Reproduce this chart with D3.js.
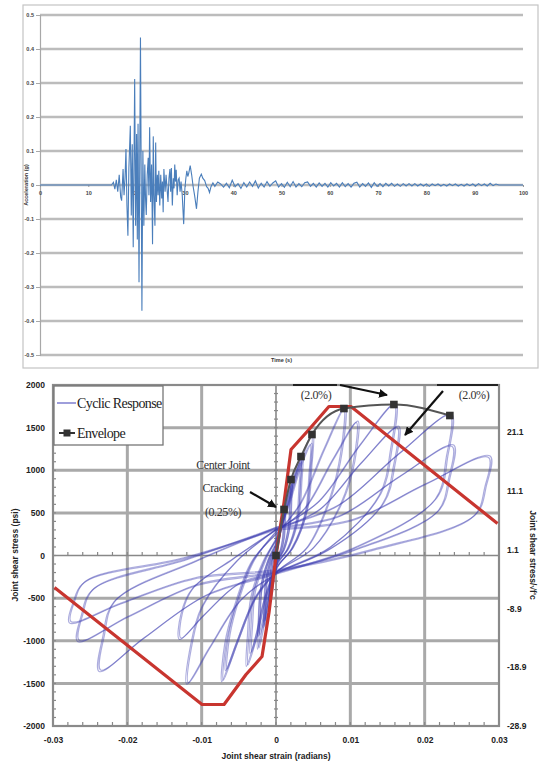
<!DOCTYPE html>
<html><head><meta charset="utf-8">
<script src="https://cdn.jsdelivr.net/npm/d3@7"></script>
<style>body{margin:0;background:#fff}svg{display:block}</style>
</head><body>
<svg id="c" width="543" height="764"></svg>
<script>
// ---------- Top chart data (time s, acceleration g) ----------
const accSeries = [[0,0],[14.8,0],[15.2,0.008],[15.5,-0.012],[15.8,0.015],[16.1,-0.02],[16.4,0.03],[16.7,-0.035],[16.9,-0.046],[17.2,0.047],[17.4,-0.03],[17.6,0.02],[17.8,0.106],[18.0,-0.06],[18.2,-0.149],[18.4,0.05],[18.5,0.09],[18.7,0.174],[18.9,-0.09],[19.1,0.12],[19.3,-0.183],[19.45,0.05],[19.6,0.312],[19.8,-0.12],[20.0,0.15],[20.15,-0.16],[20.3,0.18],[20.5,-0.286],[20.8,0.434],[21.1,-0.37],[21.3,0.10],[21.5,-0.12],[21.7,0.06],[21.85,-0.04],[22.0,-0.088],[22.2,0.03],[22.4,0.08],[22.55,-0.03],[22.7,0.17],[22.9,-0.05],[23.1,0.06],[23.3,-0.174],[23.45,0.143],[23.6,-0.03],[23.8,-0.12],[23.95,0.125],[24.1,-0.05],[24.3,0.03],[24.45,-0.03],[24.6,0.042],[24.8,-0.06],[25.0,0.03],[25.2,-0.04],[25.35,0.01],[25.5,-0.08],[25.65,0.047],[25.9,-0.02],[26.1,0.03],[26.3,-0.01],[26.5,-0.05],[26.7,0.02],[26.9,0.047],[27.05,-0.02],[27.2,0.05],[27.4,-0.06],[27.6,0.02],[27.75,-0.01],[27.9,0.06],[28.05,0.01],[28.2,0.045],[28.4,-0.03],[28.6,0.015],[28.8,0.02],[29.0,-0.02],[29.2,0.01],[29.45,-0.03],[29.75,-0.115],[30.0,-0.01],[30.2,0.02],[30.4,0.042],[30.6,0.025],[30.8,0.035],[31.1,0.057],[31.4,0.03],[31.7,-0.004],[32.0,-0.03],[32.4,-0.07],[32.7,-0.02],[33.0,0.02],[33.4,0.032],[33.7,0.02],[34.1,0.013],[34.5,-0.005],[34.8,-0.01],[35.1,-0.022],[35.4,-0.005],[35.8,0.006],
[36.2,-0.004],[36.8,0.009],[37.4,0.003],[38.0,-0.006],[38.6,0.005],[39.2,-0.008],[39.8,0.014],[40.4,-0.005],[41.0,0.004],[41.6,-0.01],[42.2,0.007],[42.8,-0.006],[43.4,0.009],[44.0,-0.004],[44.6,0.012],[45.2,-0.009],[45.8,0.005],[46.4,-0.006],[47.0,0.01],[47.6,-0.004],[48.2,0.006],[48.8,0.012],[49.4,-0.006],[50.0,0.004],[50.6,-0.007],[51.2,0.008],[51.8,-0.005],[52.4,0.01],[53.0,-0.006],[53.6,0.004],[54.2,-0.005],[54.8,0.007],[55.4,0.009],[56.0,-0.004],[56.6,0.005],[57.2,-0.006],[57.8,0.006],[58.4,-0.004],[59.0,0.005],[59.6,-0.006],[60.2,0.007],[60.8,-0.003],[61.4,0.005],[62.0,-0.006],[62.6,0.007],[63.2,-0.005],[63.8,0.004],[64.4,-0.006],[65.0,0.005],[65.6,0.008],[66.2,-0.006],[66.8,0.004],[67.4,-0.004],[68.0,0.006],[68.6,-0.007],[69.2,0.007],[69.8,-0.004],[70.4,0.004],[71.0,-0.005],[71.6,0.005],[72.2,-0.003],[72.8,0.005],[73.4,-0.004],[74.0,0.003],[74.6,-0.004],[75.2,0.004],[75.8,-0.003],[76.4,0.004],[77.0,-0.003],[77.6,0.004],[78.2,-0.003],[78.8,0.003],[79.4,-0.003],[80.0,0.003],[80.6,-0.004],[81.2,0.003],[81.8,-0.002],[82.4,0.003],[83.0,-0.003],[83.6,0.002],[84.2,-0.003],[84.8,0.003],[85.4,-0.002],[86.0,0.003],[86.6,-0.003],[87.2,0.002],[87.8,-0.003],[88.4,0.003],[89.0,-0.002],[89.6,0.003],[90.2,-0.003],[90.8,0.004],[91.4,-0.002],[92.0,0.003],[92.6,-0.003],[93.2,0.005],[93.8,-0.002],[94.4,0.003],[95.0,0],[100,0]];
const accYTicks = [0.5,0.4,0.3,0.2,0.1,0,-0.1,-0.2,-0.3,-0.4,-0.5];
const accXTicks = [0,10,20,30,40,50,60,70,80,90,100];

// ---------- Bottom chart data ----------
const strainTicks = [-0.03,-0.02,-0.01,0,0.01,0.02,0.03];
const stressTicks = [2000,1500,1000,500,0,-500,-1000,-1500,-2000];
const ratioTicks = [21.1,11.1,1.1,-8.9,-18.9,-28.9];
const envelopeStrain = [0,0.00108,0.00202,0.00336,0.00484,0.00914,0.01586,0.02339];
const envelopeStress = [0,540,891,1161,1419,1724,1771,1642];
const modelStrain = [0.0298,0.01008,0.00712,0.00444,0.00202,0.00108,0,-0.00094,-0.00188,-0.00403,-0.00699,-0.00995,-0.0298];
const modelStress = [375,1748,1748,1478,1243,622,0,-669,-1185,-1396,-1748,-1748,-375];
const cycles = [
 [[0,40],[0.00039,243],[0.00077,432],[0.0011,540],[0.00106,389],[0.00094,205],[0.0005,32],[0,-60],[-0.00036,-224],[-0.00068,-448],[-0.0009,-560],[-0.00086,-403],[-0.00077,-213],[-0.0004,-28],[0,40]],
 [[0,60],[0.00035,225],[0.0007,400],[0.001,500],[0.00096,360],[0.00085,190],[0.00045,30],[0,-40],[-0.00036,-208],[-0.00068,-416],[-0.0009,-520],[-0.00086,-374],[-0.00077,-198],[-0.0004,-26],[0,60]],
 [[0,80],[0.0007,401],[0.0014,713],[0.002,891],[0.00192,642],[0.0017,339],[0.0009,53],[0,-80],[-0.00068,-340],[-0.00128,-680],[-0.0017,-850],[-0.00163,-612],[-0.00145,-323],[-0.00077,-51],[0,80]],
 [[0,100],[0.00067,369],[0.00133,656],[0.0019,820],[0.00182,590],[0.00162,312],[0.00086,49],[0,-90],[-0.00064,-312],[-0.0012,-624],[-0.0016,-780],[-0.00154,-562],[-0.00136,-296],[-0.00072,-47],[0,100]],
 [[0,120],[0.0012,522],[0.0024,929],[0.0034,1161],[0.00326,836],[0.00289,441],[0.00153,70],[0,-120],[-0.001,-440],[-0.0019,-880],[-0.0025,-1100],[-0.0024,-792],[-0.00213,-418],[-0.00113,-66],[0,120]],
 [[0,150],[0.00112,486],[0.00224,864],[0.0032,1080],[0.00307,778],[0.00272,410],[0.00144,65],[0,-100],[-0.00096,-380],[-0.0018,-760],[-0.0024,-950],[-0.0023,-684],[-0.00204,-361],[-0.00108,-57],[0,150]],
 [[0,180],[0.00168,639],[0.00336,1135],[0.0048,1419],[0.00461,1022],[0.00408,539],[0.00216,85],[0,-150],[-0.0016,-520],[-0.003,-1040],[-0.004,-1300],[-0.00384,-936],[-0.0034,-494],[-0.0018,-78],[0,180]],
 [[0,200],[0.00161,585],[0.00322,1040],[0.0046,1300],[0.00442,936],[0.00391,494],[0.00207,78],[0,-150],[-0.0014,-460],[-0.00263,-920],[-0.0035,-1150],[-0.00336,-828],[-0.00298,-437],[-0.00158,-69],[0,200]],
 [[0,250],[0.0032,603],[0.0064,1241],[0.0091,1724],[0.0087,1207],[0.0073,690],[0.0041,86],[0,-200],[-0.0029,-518],[-0.0055,-1066],[-0.0073,-1480],[-0.0069,-1036],[-0.0056,-592],[-0.0033,-74],[0,250]],
 [[0,280],[0.0038,546],[0.0076,1123],[0.0108,1560],[0.0104,1092],[0.0088,624],[0.0049,78],[0,-200],[-0.0027,-473],[-0.0051,-972],[-0.0068,-1350],[-0.0064,-945],[-0.0052,-540],[-0.0031,-68],[0,280]],
 [[0,300],[0.0056,620],[0.0111,1275],[0.0159,1771],[0.0154,1240],[0.0139,708],[0.0072,89],[0,-220],[-0.0048,-528],[-0.009,-1087],[-0.012,-1510],[-0.0115,-1057],[-0.01,-604],[-0.0054,-76],[0,300]],
 [[0,300],[0.0057,525],[0.0114,1080],[0.0163,1500],[0.0158,1050],[0.0143,600],[0.0073,75],[0,-200],[-0.0052,-345],[-0.0098,-709],[-0.013,-985],[-0.0128,-690],[-0.0113,-394],[-0.0059,-49],[0,300]],
 [[0,320],[0.0082,575],[0.0164,1182],[0.0234,1642],[0.0229,1149],[0.0214,657],[0.0105,82],[0,-220],[-0.0095,-476],[-0.0179,-979],[-0.0238,-1360],[-0.0233,-952],[-0.0218,-544],[-0.0107,-68],[0,320]],
 [[0,320],[0.0083,448],[0.0166,922],[0.0237,1280],[0.0232,896],[0.0217,512],[0.0107,64],[0,-200],[-0.0107,-354],[-0.02,-727],[-0.0267,-1010],[-0.0262,-707],[-0.0247,-404],[-0.012,-50],[0,320]],
 [[0,300],[0.01,403],[0.02,828],[0.0286,1150],[0.0281,805],[0.0266,460],[0.0129,58],[0,-180],[-0.0111,-277],[-0.0209,-569],[-0.0278,-790],[-0.0273,-553],[-0.0258,-316],[-0.0125,-40],[0,300]]
];

const svg = d3.select("#c");

// ================= TOP CHART =================
const tx = d3.scaleLinear().domain([0,100]).range([40,523]);
const ty = d3.scaleLinear().domain([-0.5,0.5]).range([355,15]);
svg.append("rect").attr("x",23).attr("y",5).attr("width",515).attr("height",363)
  .attr("fill","#fff").attr("stroke","#c4c4c4").attr("stroke-width",1.2);
const topG = svg.append("g");
topG.selectAll("line.grid").data(accYTicks.filter(d=>d!==0)).join("line")
  .attr("x1",tx(0)).attr("x2",tx(100)).attr("y1",d=>ty(d)).attr("y2",d=>ty(d))
  .attr("stroke","#bcbcbc").attr("stroke-width",2.6);
const ya = topG.append("g").attr("transform",`translate(${tx(0)},0)`)
  .call(d3.axisLeft(ty).tickValues(accYTicks).tickSize(4).tickPadding(2).tickFormat(d=>String(d)));
ya.select(".domain").attr("stroke","#a8a8a8").attr("stroke-width",1.2);
ya.selectAll(".tick line").attr("stroke","#a8a8a8");
ya.selectAll("text").attr("font-family","Liberation Sans, Arial").attr("font-weight","bold").attr("font-size",5.5).attr("fill","#444");
topG.append("line").attr("x1",tx(0)).attr("x2",tx(100)).attr("y1",ty(0)).attr("y2",ty(0)).attr("stroke","#bcbcbc").attr("stroke-width",2.4);
const xa = topG.append("g").attr("transform",`translate(0,${ty(0)})`)
  .call(d3.axisBottom(tx).tickValues(accXTicks).tickSize(2).tickPadding(4).tickFormat(d=>String(d)));
xa.select(".domain").remove();
xa.selectAll(".tick line").attr("stroke","#999");
xa.selectAll("text").attr("font-family","Liberation Sans, Arial").attr("font-weight","bold").attr("font-size",5.5).attr("fill","#444");
topG.append("path").datum(accSeries)
  .attr("d", d3.line().x(d=>tx(d[0])).y(d=>ty(d[1])))
  .attr("fill","none").attr("stroke","#4a7ebb").attr("stroke-width",1.1);
topG.append("text").attr("transform",`translate(28,${ty(0)}) rotate(-90)`).attr("text-anchor","middle")
  .attr("font-family","Liberation Sans, Arial").attr("font-weight","bold").attr("font-size",5.5).attr("fill","#333").text("Acceleration (g)");
topG.append("text").attr("x",tx(50)).attr("y",362).attr("text-anchor","middle")
  .attr("font-family","Liberation Sans, Arial").attr("font-weight","bold").attr("font-size",5.5).attr("fill","#333").text("Time (s)");

// ================= BOTTOM CHART =================
const sx = d3.scaleLinear().domain([-0.03,0.03]).range([53,499]);
const sy = d3.scaleLinear().domain([-2000,2000]).range([726,385]);
const sr = d3.scaleLinear().domain([-28.9,29.1]).range([726,385]);
const bot = svg.append("g");
bot.selectAll("line.hg").data([1500,1000,500,-500,-1000,-1500]).join("line")
  .attr("x1",sx(-0.03)).attr("x2",sx(0.03)).attr("y1",d=>sy(d)).attr("y2",d=>sy(d))
  .attr("stroke","#a9a9a9").attr("stroke-width",3);
bot.selectAll("line.vg").data([-0.02,-0.01,0.01,0.02]).join("line")
  .attr("x1",d=>sx(d)).attr("x2",d=>sx(d)).attr("y1",sy(2000)).attr("y2",sy(-2000))
  .attr("stroke","#a9a9a9").attr("stroke-width",3);
bot.append("line").attr("x1",sx(-0.03)).attr("x2",sx(0.03)).attr("y1",sy(0)).attr("y2",sy(0)).attr("stroke","#888").attr("stroke-width",1.6);
bot.append("line").attr("x1",sx(0)).attr("x2",sx(0)).attr("y1",sy(2000)).attr("y2",sy(-2000)).attr("stroke","#888").attr("stroke-width",1.6);
const minorX = sx.ticks(30), minorY = sy.ticks(40);
bot.selectAll("line.mx0").data(minorX).join("line")
  .attr("x1",d=>sx(d)).attr("x2",d=>sx(d)).attr("y1",sy(0)).attr("y2",sy(0)-3.5).attr("stroke","#888").attr("stroke-width",1.2);
bot.selectAll("line.my0").data(minorY).join("line")
  .attr("x1",sx(0)-2).attr("x2",sx(0)+2).attr("y1",d=>sy(d)).attr("y2",d=>sy(d)).attr("stroke","#888").attr("stroke-width",1.2);
bot.selectAll("line.mxb").data(minorX).join("line")
  .attr("x1",d=>sx(d)).attr("x2",d=>sx(d)).attr("y1",sy(-2000)).attr("y2",sy(-2000)-4).attr("stroke","#888").attr("stroke-width",1.2);
bot.selectAll("line.myl").data(minorY).join("line")
  .attr("x1",sx(-0.03)).attr("x2",sx(-0.03)+3).attr("y1",d=>sy(d)).attr("y2",d=>sy(d)).attr("stroke","#888").attr("stroke-width",1.2);
bot.append("rect").attr("x",sx(-0.03)).attr("y",sy(2000)).attr("width",sx(0.03)-sx(-0.03)).attr("height",sy(-2000)-sy(2000))
  .attr("fill","none").attr("stroke","#8a8a8a").attr("stroke-width",2.2);

// cyclic response: each loop drawn as a doubled trace (second copy offset by a pixel)
const cyc = d3.line().x(d=>sx(d[0])).y(d=>sy(d[1])).curve(d3.curveCatmullRom.alpha(0.5));
[[0,0],[1.6,-1.4]].forEach(([dx,dy])=>{
  bot.append("g").attr("transform",`translate(${dx},${dy})`).selectAll("path").data(cycles).join("path")
    .attr("d",cyc).attr("fill","none").attr("stroke","#3b3bb0").attr("stroke-opacity",0.42).attr("stroke-width",1.2);
});

const modelPts = modelStrain.map((s,i)=>[s,modelStress[i]]);
bot.append("path").datum(modelPts).attr("d",d3.line().x(d=>sx(d[0])).y(d=>sy(d[1])))
  .attr("fill","none").attr("stroke","#c8352f").attr("stroke-width",3.2).attr("stroke-linejoin","round");

const envPts = envelopeStrain.map((s,i)=>[s,envelopeStress[i]]);
bot.append("path").datum(envPts).attr("d",d3.line().x(d=>sx(d[0])).y(d=>sy(d[1])).curve(d3.curveMonotoneX))
  .attr("fill","none").attr("stroke","#555").attr("stroke-width",2);
bot.selectAll("rect.env").data(envPts).join("rect")
  .attr("x",d=>sx(d[0])-3.8).attr("y",d=>sy(d[1])-3.8).attr("width",7.6).attr("height",7.6).attr("fill","#333");

const la = bot.append("g").attr("transform",`translate(${sx(-0.03)},0)`)
  .call(d3.axisLeft(sy).tickValues(stressTicks).tickSize(0).tickPadding(8).tickFormat(d=>String(d)));
la.select(".domain").remove();
const ra = bot.append("g").attr("transform",`translate(${sx(0.03)},0)`)
  .call(d3.axisRight(sr).tickValues(ratioTicks).tickSize(0).tickPadding(8).tickFormat(d=>String(d)));
ra.select(".domain").remove();
const ba = bot.append("g").attr("transform",`translate(0,${sy(-2000)})`)
  .call(d3.axisBottom(sx).tickValues(strainTicks).tickSize(0).tickPadding(11).tickFormat(d=>d===0?"0":d.toFixed(2)));
ba.select(".domain").remove();
[la,ra,ba].forEach(a=>a.selectAll("text").attr("font-family","Liberation Sans, Arial").attr("font-weight","bold").attr("font-size",8.5).attr("fill","#222"));

bot.append("text").attr("transform",`translate(18,555) rotate(-90)`).attr("text-anchor","middle")
  .attr("font-family","Liberation Sans, Arial").attr("font-weight","bold").attr("font-size",8.5).attr("fill","#222").text("Joint shear stress (psi)");
bot.append("text").attr("transform",`translate(530,555) rotate(90)`).attr("text-anchor","middle")
  .attr("font-family","Liberation Sans, Arial").attr("font-weight","bold").attr("font-size",8.5).attr("fill","#222").text("Joint shear stress/\u221Af'c");
bot.append("text").attr("x",sx(0)).attr("y",759).attr("text-anchor","middle")
  .attr("font-family","Liberation Sans, Arial").attr("font-weight","bold").attr("font-size",8.5).attr("fill","#222").text("Joint shear strain (radians)");

const lg = bot.append("g");
lg.append("rect").attr("x",54).attr("y",386).attr("width",109).attr("height",59).attr("fill","#fff").attr("stroke","#777").attr("stroke-width",1.3);
lg.append("line").attr("x1",57).attr("x2",76).attr("y1",403).attr("y2",403).attr("stroke","#6a6ac8").attr("stroke-width",1.3);
lg.append("text").attr("x",77).attr("y",408).attr("font-family","Liberation Serif, Times New Roman").attr("font-size",14).attr("letter-spacing",-0.6).attr("fill","#222").text("Cyclic Response");
lg.append("line").attr("x1",59).attr("x2",75).attr("y1",433).attr("y2",433).attr("stroke","#333").attr("stroke-width",2);
lg.append("rect").attr("x",63.5).attr("y",429.5).attr("width",7).attr("height",7).attr("fill","#333");
lg.append("text").attr("x",77).attr("y",438).attr("font-family","Liberation Serif, Times New Roman").attr("font-size",14).attr("letter-spacing",-0.6).attr("fill","#222").text("Envelope");

const defs = svg.append("defs");
defs.append("marker").attr("id","ah").attr("viewBox","0 0 10 10").attr("refX",9).attr("refY",5)
  .attr("markerWidth",4).attr("markerHeight",4).attr("orient","auto")
  .append("path").attr("d","M0,0L10,5L0,10z").attr("fill","#111");
const ann = bot.append("g").attr("font-family","Liberation Serif, Times New Roman").attr("font-size",12).attr("fill","#333").attr("text-anchor","middle").attr("letter-spacing",-0.4);
ann.append("text").attr("x",223).attr("y",469).text("Center Joint");
ann.append("text").attr("x",223).attr("y",492).text("Cracking");
ann.append("text").attr("x",223).attr("y",516).text("(0.25%)");
ann.append("text").attr("x",316).attr("y",399).text("(2.0%)");
ann.append("text").attr("x",474).attr("y",399).text("(2.0%)");
bot.append("line").attr("x1",250).attr("y1",492).attr("x2",276).attr("y2",507).attr("stroke","#111").attr("stroke-width",2.2).attr("marker-end","url(#ah)");
bot.append("line").attr("x1",293).attr("y1",385).attr("x2",337).attr("y2",385).attr("stroke","#222").attr("stroke-width",2);
bot.append("line").attr("x1",437).attr("y1",385).attr("x2",498).attr("y2",385).attr("stroke","#222").attr("stroke-width",2);
bot.append("line").attr("x1",340).attr("y1",385).attr("x2",387).attr("y2",395).attr("stroke","#111").attr("stroke-width",2.2).attr("marker-end","url(#ah)");
bot.append("line").attr("x1",443).attr("y1",391).attr("x2",405).attr("y2",435).attr("stroke","#111").attr("stroke-width",2.2).attr("marker-end","url(#ah)");
</script>
</body></html>
